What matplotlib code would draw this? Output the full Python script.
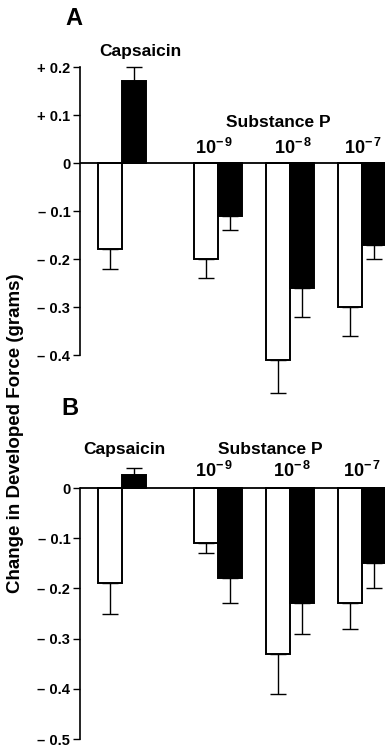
import numpy as np
import matplotlib
matplotlib.use("Agg")
import matplotlib.pyplot as plt

plt.rcParams["font.family"] = ["Liberation Sans", "DejaVu Sans"]
plt.rcParams["font.weight"] = "bold"
plt.rcParams["mathtext.fontset"] = "custom"
plt.rcParams["mathtext.rm"] = "Liberation Sans:bold"
plt.rcParams["mathtext.bf"] = "Liberation Sans:bold"

# DATA (grams, change in developed force)
groups = ["Capsaicin", "1e-9", "1e-8", "1e-7"]
conc_labels = [r"$\mathbf{10^{-\,9}}$", r"$\mathbf{10^{-\,8}}$", r"$\mathbf{10^{-\,7}}$"]

a_white = [-0.18, -0.20, -0.41, -0.30]
a_white_err = [0.04, 0.04, 0.07, 0.06]
a_black = [0.17, -0.11, -0.26, -0.17]
a_black_err = [0.03, 0.03, 0.06, 0.03]

b_white = [-0.19, -0.11, -0.33, -0.23]
b_white_err = [0.06, 0.02, 0.08, 0.05]
b_black = [0.025, -0.18, -0.23, -0.15]
b_black_err = [0.015, 0.05, 0.06, 0.05]

a_ticks = [0.2, 0.1, 0.0, -0.1, -0.2, -0.3, -0.4]
b_ticks = [0.0, -0.1, -0.2, -0.3, -0.4, -0.5]

pos = np.array([0, 4, 7, 10])


def fmt(v):
    if abs(v) < 1e-9:
        return "0"
    return ("+ " if v > 0 else "\u2013 ") + f"{abs(v):.1f}"


def one_sided(vals, errs):
    lo = [e if v < 0 else 0 for v, e in zip(vals, errs)]
    hi = [e if v >= 0 else 0 for v, e in zip(vals, errs)]
    return [lo, hi]


def draw_panel(ax, white, white_err, black, black_err, ticks, ylim):
    ax.bar(pos, white, 1.0, align="edge", color="white",
           edgecolor="black", linewidth=1.4, zorder=2)
    ax.bar(pos + 1, black, 1.0, align="edge", color="black",
           edgecolor="black", linewidth=1.4, zorder=2)
    ax.errorbar(pos + 0.5, white, yerr=one_sided(white, white_err), fmt="none",
                ecolor="black", elinewidth=1.0, capsize=6, capthick=1.0, zorder=1)
    ax.errorbar(pos + 1.5, black, yerr=one_sided(black, black_err), fmt="none",
                ecolor="black", elinewidth=1.0, capsize=6, capthick=1.0, zorder=1)
    ax.axhline(0, color="black", linewidth=1.3, zorder=3)
    ax.set_xlim(-0.75, 11.96)
    ax.set_ylim(*ylim)
    ax.set_yticks(ticks)
    ax.set_yticklabels([fmt(t) for t in ticks], fontsize=10.5, fontweight="bold")
    ax.tick_params(axis="y", direction="out", length=5, width=1.0, pad=2)
    ax.set_xticks([])
    for s in ["top", "right", "bottom"]:
        ax.spines[s].set_visible(False)
    ax.spines["left"].set_bounds(min(ticks), max(ticks))
    ax.spines["left"].set_linewidth(1.2)
    ax.patch.set_alpha(0)


fig = plt.figure(figsize=(3.85, 7.5), dpi=100)

# Panel A
axA = fig.add_axes([0.2078, 0.469, 0.7922, 0.448])
draw_panel(axA, a_white, a_white_err, a_black, a_black_err, a_ticks, (-0.49, 0.21))
axA.text(1.77, 0.233, "Capsaicin", ha="center", va="center", fontsize=12.5)
axA.text(7.5, 0.085, "Substance P", ha="center", va="center", fontsize=12.5)
for x, lab in zip([4.85, 8.15, 11.04], conc_labels):
    axA.text(x, 0.032, lab, ha="center", va="center", fontsize=13)

# Panel B
axB = fig.add_axes([0.2078, 0.0113, 0.7922, 0.3715])
draw_panel(axB, b_white, b_white_err, b_black, b_black_err, b_ticks, (-0.505, 0.05))
axB.text(1.1, 0.077, "Capsaicin", ha="center", va="center", fontsize=12.5)
axB.text(7.19, 0.077, "Substance P", ha="center", va="center", fontsize=12.5)
for x, lab in zip([4.85, 8.1, 11.02], conc_labels):
    axB.text(x, 0.033, lab, ha="center", va="center", fontsize=13)

fig.text(0.192, 0.975, "A", ha="center", va="center", fontsize=17, fontweight="bold")
fig.text(0.182, 0.455, "B", ha="center", va="center", fontsize=17, fontweight="bold")
fig.text(0.04, 0.423, "Change in Developed Force (grams)", rotation=90,
         ha="center", va="center", fontsize=13.5, fontweight="bold")

fig.savefig("out.png", dpi=100)
